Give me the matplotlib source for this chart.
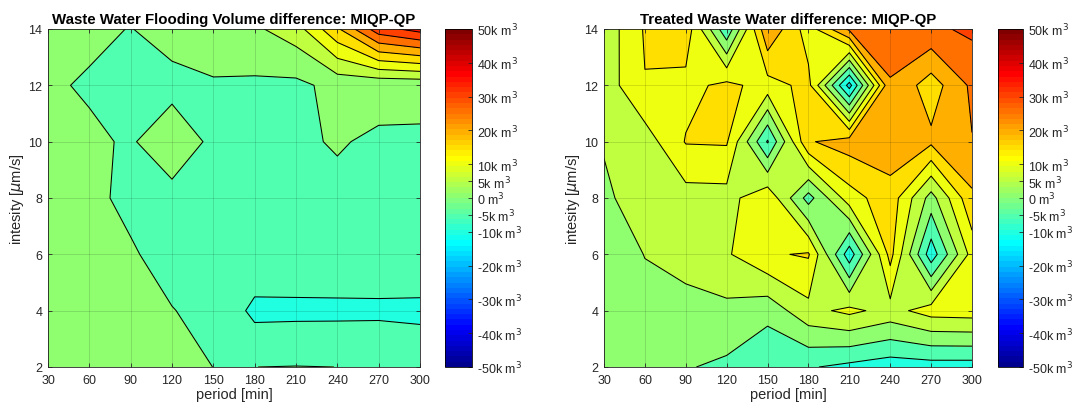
import numpy as np
import matplotlib
matplotlib.use("Agg")
import matplotlib.pyplot as plt
from matplotlib.colors import ListedColormap, Normalize
from matplotlib.cm import ScalarMappable

plt.rcParams['font.family'] = ['Liberation Sans', 'DejaVu Sans']

# ---------------- data (values in thousand m^3) ----------------
period = [30, 60, 90, 120, 150, 180, 210, 240, 270, 300]
intensity = [2, 4, 6, 8, 10, 12, 14]

flood_diff = [
    [0.5, 0.5, 0.5, 0.5, -0.01, -0.01, 0.11, -0.01, -0.5, -0.5],      # 2
    [0.5, 0.5, 0.5, 0.028, -0.25, -6.33, -6.2, -6.13, -5.95, -6.46],  # 4
    [0.5, 0.4, 0.09, -0.32, -0.5, -0.9, -1.09, -1.11, -1.53, -0.11],  # 6
    [0.5, 0.2, -0.2, -0.3, -0.5, -0.5, -0.5, -0.552, -0.5, -0.5],     # 8
    [0.4, 0.15, -0.1, 0.6, -0.2, -0.5, -0.367, 0.189, -0.384, -0.506],  # 10
    [0.12, -0.1, -0.3, -0.3, -0.35, -0.85, -1.16, 1.5, 0.94, 1.1],    # 12
    [0.3, 0.2, -0.03, 0.4, 2.0, 4.16, 7.77, 19.2, 33.0, 37.0],        # 14
]

treated_diff = [
    [2.5, 2.0, 0.34, -0.97, -4.67, -4.55, -6.3, -7.83, -7.35, -7.4],  # 2
    [2.0, 2.5, 3.0, 3.75, 1.77, 8.45, 11.2, 8.22, 12.2, 12.6],        # 4
    [0.2, 5.2, 7.2, 9.4, 14.4, 15.5, -8.0, 16.7, -8.0, 12.0],         # 6
    [3.83, 8.2, 8.0, 8.16, 13.8, -2.0, 12.8, 18.0, 3.0, 19.0],        # 8
    [5.5, 7.5, 15.3, 15.5, -5.5, 19.5, 22.4, 23.0, 21.0, 24.8],       # 10
    [7.14, 14.8, 13.4, 16.3, 13.0, 16.5, -12.0, 24.5, 17.5, 26.0],    # 12
    [6.75, 15.5, 18.3, -4.0, 24.4, 12.5, 26.0, 28.0, 29.0, 31.0],     # 14
]

cbar_ticks = [-50, -40, -30, -20, -10, -5, 0, 5, 10, 20, 30, 40, 50]
levels = list(range(-50, 55, 5))
titles = ["Waste Water Flooding Volume difference: MIQP-QP",
          "Treated Waste Water difference: MIQP-QP"]

# ---------------- MATLAB jet(64) ----------------
def matlab_jet(n=64):
    m = int(np.ceil(n / 4))
    u = np.concatenate([np.arange(1, m + 1) / m, np.ones(m - 1), np.arange(m, 0, -1) / m])
    g = int(np.ceil(m / 2)) - (1 if n % 4 == 1 else 0) + np.arange(1, len(u) + 1)
    r = g + m
    b = g - m
    J = np.zeros((n, 3))
    for ch, idx in enumerate([r, g, b]):
        mask = (idx >= 1) & (idx <= n)
        J[idx[mask] - 1, ch] = u[mask]
    return J

J = matlab_jet(64)
cmap = ListedColormap(J)
vmin, vmax = -50, 50
band_colors = [J[min(int(np.floor((L - vmin) / (vmax - vmin) * 64)), 63)] for L in levels[:-1]]

W, H = 1075, 414
fig = plt.figure(figsize=(W / 100, H / 100), dpi=100)

axes_px = [(48, 30, 372, 338), (604, 30, 368, 338)]
cbar_px = [(445, 30, 27, 338), (998, 30, 25, 338)]
TXT = '#262626'

def px2fig(x, y, w, h):
    return [x / W, 1 - (y + h) / H, w / W, h / H]

X, Y = np.meshgrid(period, intensity)
for k, data in enumerate([flood_diff, treated_diff]):
    Z = np.array(data)
    ax = fig.add_axes(px2fig(*axes_px[k]))
    ax.contourf(X, Y, Z, levels=levels, colors=band_colors)
    ax.contour(X, Y, Z, levels=levels, colors='k', linewidths=0.75, linestyles='solid')
    ax.set_xlim(30, 300)
    ax.set_ylim(2, 14)
    ax.set_xticks(period)
    ax.set_yticks(intensity)
    ax.grid(True, color='k', alpha=0.15, linewidth=0.6)
    ax.set_axisbelow(False)
    ax.tick_params(direction='in', length=3, width=0.6, labelsize=9, colors=TXT,
                   top=True, right=True)
    ax.tick_params(axis='x', pad=5)
    ax.tick_params(axis='y', pad=4)
    for s in ax.spines.values():
        s.set_linewidth(0.6)
        s.set_color(TXT)
    ax.set_xlabel('period [min]', fontsize=10.5, color=TXT, labelpad=1)
    ax.set_ylabel(r'intesity [$\mu$m/s]', fontsize=10.5, color=TXT, labelpad=2)
    ax.set_title(titles[k], fontsize=10.8, fontweight='bold', pad=4)

    cax = fig.add_axes(px2fig(*cbar_px[k]))
    sm = ScalarMappable(norm=Normalize(vmin, vmax), cmap=cmap)
    cb = fig.colorbar(sm, cax=cax, ticks=cbar_ticks)
    cb.set_ticklabels([('%dk m$^3$' % t) if t != 0 else '0 m$^3$' for t in cbar_ticks])
    cb.ax.tick_params(direction='in', length=3, width=0.6, labelsize=9, colors=TXT)
    cb.outline.set_linewidth(0.6)

fig.savefig('out.png', dpi=100)
